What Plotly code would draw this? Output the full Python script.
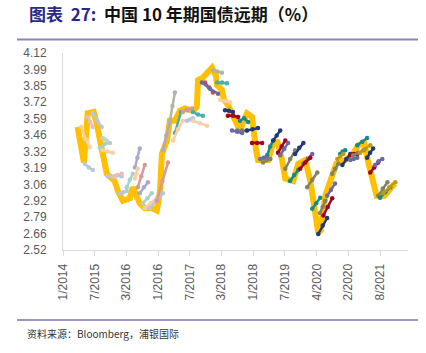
import plotly.graph_objects as go

# ---------------- data ----------------
tick_labels = ["1/2014", "7/2015", "3/2016", "1/2016", "7/2017", "3/2018",
               "1/2018", "7/2019", "4/2020", "2/2020", "8/2021"]
tick_pos = [0, 10, 20, 30, 40, 50, 60, 70, 80, 90, 100]
y_tick_labels = ["2.52", "2.66", "2.79", "2.92", "3.06", "3.19", "3.32",
                 "3.46", "3.59", "3.72", "3.85", "3.99", "4.12"]

# 10Y China government bond yield (spot)
spot_t = [4.6, 6.6, 7.8, 9.7, 10.6, 12.2, 13.8, 16.3, 17.3, 18.9, 21.1, 22.0, 24.2,
          25.8, 28.0, 29.6, 30.6, 31.2, 32.8, 33.7, 35.3, 36.9, 38.5, 41.0, 42.2,
          42.6, 44.1, 47.0, 48.2, 48.6, 50.1, 50.8, 52.0, 53.6, 55.2, 55.8, 58.0,
          59.6, 60.9, 61.5, 64.7, 66.0, 67.5, 69.1, 70.1, 72.6, 74.2, 76.4, 78.0,
          79.2, 80.5, 81.3, 82.7, 84.3, 86.2, 89.0, 91.2, 93.1, 95.0, 96.3, 97.6,
          98.9, 101.4, 103.3, 104.6]
spot_v = [3.52, 3.23, 3.63, 3.64, 3.55, 3.35, 3.14, 3.08, 3.00, 2.92, 2.94, 3.03, 2.90,
          2.86, 2.86, 2.84, 3.00, 3.30, 3.41, 3.57, 3.57, 3.65, 3.67, 3.65, 3.68,
          3.90, 3.92, 4.00, 3.94, 3.86, 3.82, 3.74, 3.70, 3.61, 3.53, 3.49, 3.63,
          3.60, 3.33, 3.25, 3.25, 3.37, 3.41, 3.25, 3.10, 3.08, 3.22, 3.25, 3.08,
          2.88, 2.66, 2.68, 2.96, 3.08, 3.22, 3.25, 3.29, 3.37, 3.39, 3.23, 3.08,
          2.96, 2.96, 3.02, 3.06]

# forward curves: start / end position and three implied values (spot, mid, far)
fwd_x0 = [5.8, 7.8, 9.4, 12.5, 11.6, 12.5, 6.9, 14.1, 15.7, 17.9, 20.1, 22.7, 22.7,
          23.6, 24.2, 25.2, 25.8, 27.4, 29.6, 31.5, 33.7, 35.3, 34.7, 37.8, 39.1,
          41.0, 41.0,
          47.3, 48.6, 44.8, 43.8, 49.5, 51.1, 52.0, 55.8, 54.9, 53.3, 58.0, 59.6,
          64.4, 66.3, 62.2, 63.1, 67.8, 68.5, 70.1, 73.2, 71.6, 75.8, 74.8, 77.0,
          78.6, 80.5, 83.3, 82.1, 81.1, 84.9, 87.4, 86.5, 88.1, 90.6, 90.6, 91.5,
          92.8, 93.7, 95.9, 96.9, 98.4, 99.4, 100.0, 101.0]
fwd_x1 = [8.4, 9.4, 12.2, 13.8, 14.8, 15.7, 9.4, 18.5, 18.5, 20.1, 22.0, 24.2, 23.6,
          25.8, 26.8, 28.0, 29.6, 31.5, 33.1, 33.7, 35.3, 39.1, 37.8, 40.7, 41.0,
          44.1, 45.4,
          50.1, 51.7, 47.3, 48.9, 52.7, 53.6, 55.2, 58.4, 58.0, 56.5, 61.5, 62.8,
          66.3, 68.5, 64.4, 65.4, 70.1, 71.0, 73.2, 75.8, 74.2, 78.6, 78.0, 80.2,
          81.1, 83.3, 85.8, 84.9, 82.7, 86.8, 89.0, 88.4, 90.6, 92.8, 92.8, 94.7,
          95.9, 96.9, 97.8, 99.4, 100.7, 102.3, 103.2, 104.8]
fwd_v = [
    [3.52, 3.42, 3.355], [3.60, 3.56, 3.52], [3.63, 3.57, 3.52], [3.43, 3.42, 3.41],
    [3.35, 3.38, 3.39], [3.33, 3.32, 3.31], [3.22, 3.19, 3.17], [3.12, 3.12, 3.12],
    [3.11, 3.13, 3.14], [2.98, 2.99, 3.00], [3.03, 3.09, 3.14], [3.19, 3.27, 3.345],
    [3.10, 3.14, 3.18], [3.03, 3.12, 3.21], [2.98, 3.03, 3.07], [2.90, 2.94, 2.98],
    [2.86, 2.90, 2.945], [2.86, 2.92, 2.98], [2.92, 3.08, 3.23], [3.33, 3.45, 3.56],
    [3.57, 3.69, 3.80], [3.47, 3.64, 3.655], [3.41, 3.50, 3.57], [3.64, 3.66, 3.67],
    [3.57, 3.58, 3.59], [3.64, 3.62, 3.61], [3.57, 3.55, 3.53],
    [3.98, 3.97, 3.96], [3.88, 3.88, 3.875], [3.88, 3.84, 3.80], [3.88, 3.83, 3.79],
    [3.74, 3.73, 3.72], [3.655, 3.65, 3.64], [3.61, 3.61, 3.60], [3.57, 3.59, 3.56],
    [3.49, 3.49, 3.49], [3.49, 3.48, 3.47], [3.49, 3.50, 3.51], [3.39, 3.39, 3.39],
    [3.29, 3.36, 3.41], [3.41, 3.45, 3.49], [3.26, 3.27, 3.27], [3.23, 3.25, 3.26],
    [3.31, 3.36, 3.41], [3.29, 3.34, 3.39], [3.18, 3.26, 3.33], [3.30, 3.35, 3.39],
    [3.08, 3.13, 3.17], [3.22, 3.26, 3.30], [3.18, 3.23, 3.27], [3.03, 3.09, 3.15],
    [2.855, 2.90, 2.945], [2.65, 2.72, 2.78], [2.96, 3.01, 3.06], [2.80, 2.87, 2.94],
    [2.82, 2.87, 2.92], [3.14, 3.18, 3.22], [3.30, 3.32, 3.33], [3.26, 3.28, 3.30],
    [3.21, 3.26, 3.30], [3.29, 3.30, 3.30], [3.25, 3.26, 3.27], [3.29, 3.31, 3.33],
    [3.37, 3.40, 3.43], [3.31, 3.34, 3.37], [3.27, 3.31, 3.345], [3.15, 3.19, 3.23],
    [3.21, 3.24, 3.26], [2.96, 3.02, 3.07], [2.945, 2.99, 3.03], [2.98, 3.03, 3.07],
]

# ---------------- styles ----------------
PEACH, PINK, LBLUE, LGREEN, LTEAL, LAV, ROSE, GREYOL = (
    "#F9CFA5", "#E6BDBB", "#B8C8DC", "#C8D4C0", "#A8D2CE", "#A9A9D0", "#D59A98", "#B3B3A3")
NAVY, DRED, TEAL, OLIVE, PURP, GOLD, RED, MTEAL = (
    "#1F3A7A", "#A50021", "#138C8A", "#828264", "#6A6AA6", "#C29A10", "#C0504D", "#4BAEAA")
curve_colors = [PEACH, PINK, LBLUE, LGREEN, LTEAL, PEACH, LBLUE, LBLUE, PINK, LBLUE,
                LTEAL, LAV, PEACH, ROSE, LAV, LTEAL, PEACH, LBLUE, ROSE, LAV, GREYOL,
                MTEAL, PEACH, ROSE, LBLUE, MTEAL, PEACH,
                GREYOL, MTEAL, RED, PURP, PEACH, NAVY, DRED, TEAL, OLIVE, PURP, NAVY, DRED,
                TEAL, NAVY, PURP, OLIVE, DRED, PURP, OLIVE, NAVY, TEAL, PURP, DRED, OLIVE,
                TEAL, NAVY, PURP, DRED, OLIVE, OLIVE, TEAL, GOLD, NAVY, DRED, PURP, OLIVE,
                TEAL, GOLD, NAVY, DRED, PURP, OLIVE, TEAL, GOLD]

fig = go.Figure()
fig.add_trace(go.Scatter(x=spot_t, y=spot_v, mode="lines",
                         line=dict(color="#FFC000", width=6, shape="linear"),
                         hoverinfo="skip", showlegend=False))

for x0, x1, vals, col in zip(fwd_x0, fwd_x1, fwd_v, curve_colors):
    n = len(vals)
    xs = [x0 + (x1 - x0) * k / (n - 1) for k in range(n)]
    fig.add_trace(go.Scatter(x=xs, y=vals, mode="lines+markers",
                             line=dict(color=col, width=2.5),
                             marker=dict(color=col, size=4.5),
                             hoverinfo="skip", showlegend=False))

L, R, T, B = 63, 18, 53, 103
W, H = 426, 353
pw, ph = W - L - R, H - T - B


def px(x):
    return (x - L) / pw


def py(y):
    return (H - B - y) / ph


y_step = (4.12 - 2.52) / 12
fig.update_layout(
    width=W, height=H,
    margin=dict(l=L, r=R, t=T, b=B),
    paper_bgcolor="white", plot_bgcolor="white",
    showlegend=False,
    font=dict(family="Liberation Sans", size=12, color="#595959"),
    xaxis=dict(range=[0, 108.8], tickvals=tick_pos, ticktext=tick_labels,
               tickangle=-90, showgrid=False, zeroline=False,
               showline=True, linecolor="#D9D9D9", linewidth=1,
               ticks="outside", ticklen=5, tickcolor="#D9D9D9",
               tickfont=dict(size=12, color="#595959"), ticklabelstandoff=3),
    yaxis=dict(range=[2.52, 4.12],
               tickvals=[2.52 + k * y_step for k in range(13)],
               ticktext=y_tick_labels, showgrid=False, zeroline=False,
               showline=True, linecolor="#D9D9D9", linewidth=1,
               ticks="", tickfont=dict(size=12, color="#595959"),
               ticklabelstandoff=13),
)

fig.add_shape(type="line", xref="paper", yref="paper",
              x0=px(17), x1=px(418), y0=py(39.5), y1=py(39.5),
              line=dict(color="#8884B8", width=2))
fig.add_shape(type="line", xref="paper", yref="paper",
              x0=px(17), x1=px(418), y0=py(320), y1=py(320),
              line=dict(color="#7F72B0", width=1.5))

fig.add_annotation(xref="paper", yref="paper", x=px(27), y=py(14),
                   xanchor="left", yanchor="middle", showarrow=False,
                   text="<b><span style='color:#2A2A86'>图表  27:</span>  中国 10 年期国债远期（%）</b>",
                   font=dict(family="Noto Sans CJK SC", size=17, color="#111111"))
fig.add_annotation(xref="paper", yref="paper", x=px(25), y=py(333),
                   xanchor="left", yanchor="middle", showarrow=False,
                   text="资料来源：Bloomberg，浦银国际",
                   font=dict(family="Noto Sans CJK SC", size=10, color="#333333"))

fig.write_html("out.html")
